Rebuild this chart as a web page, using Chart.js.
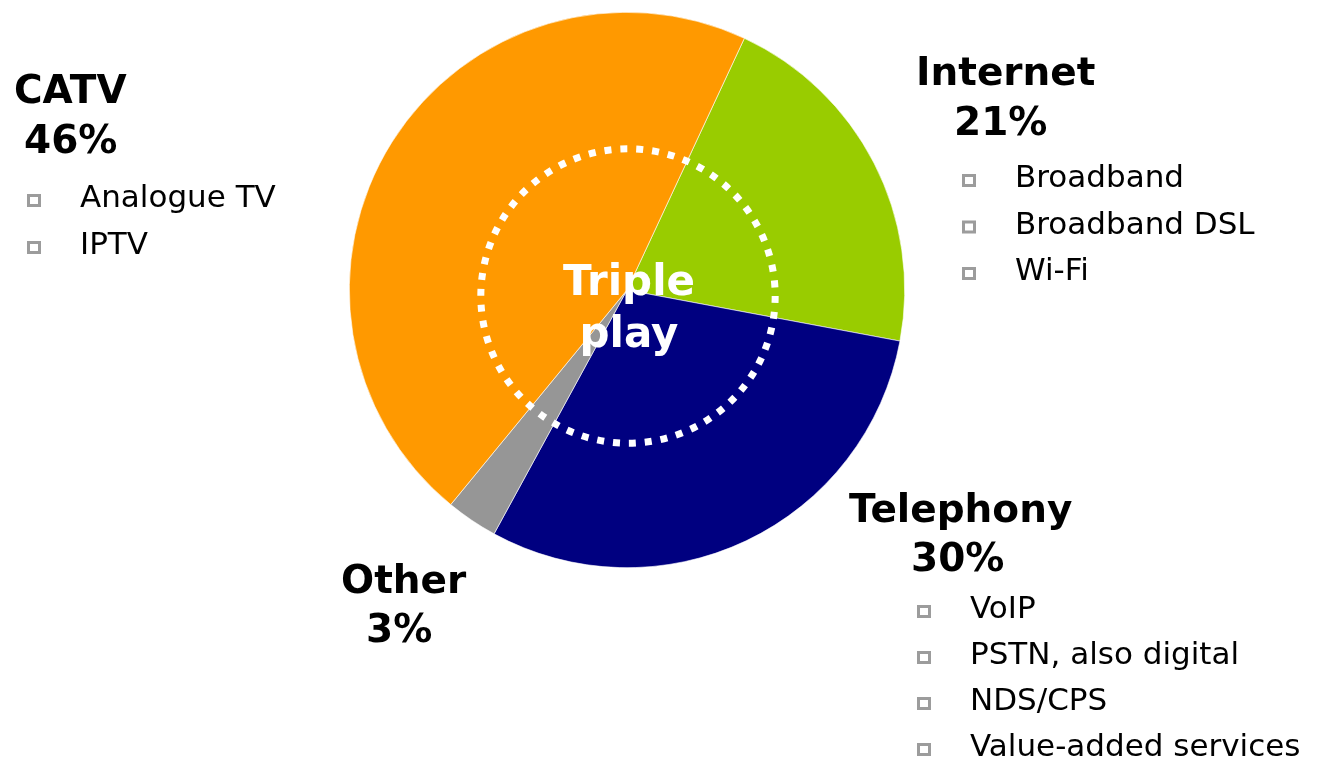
<!DOCTYPE html>
<html>
<head>
<meta charset="utf-8">
<script src="https://cdn.jsdelivr.net/npm/chart.js@4.4.0/dist/chart.umd.min.js"></script>
<style>
html,body{margin:0;padding:0;background:#fff;}
#wrap{position:relative;width:1317px;height:759px;}
</style>
</head>
<body>
<div id="wrap"><canvas id="c" width="1317" height="759"></canvas></div>
<script>
// ---- data ----
const categories = ["Internet", "Telephony", "Other", "CATV"];
const shares = [21, 30, 3, 46];
const colors = ["#99CC00", "#000080", "#969696", "#FF9900"];
const internetItems = ["Broadband", "Broadband DSL", "Wi-Fi"];
const telephonyItems = ["VoIP", "PSTN, also digital", "NDS/CPS", "Value-added services"];
const catvItems = ["Analogue TV", "IPTV"];
const otherItems = [];
const centerText = ["Triple", "play"];

// ---- layout for text blocks (positions only) ----
const blocks = [
  {name: "CATV", items: catvItems, nameX: 14, nameY: 103, pctX: 24, pctY: 153, bulletX: 27, textX: 80, firstY: 207, step: 47},
  {name: "Internet", items: internetItems, nameX: 916, nameY: 85, pctX: 954, pctY: 135, bulletX: 962, textX: 1015, firstY: 187, step: 46.5},
  {name: "Telephony", items: telephonyItems, nameX: 849, nameY: 522, pctX: 911, pctY: 571, bulletX: 917, textX: 970, firstY: 618, step: 46},
  {name: "Other", items: otherItems, nameX: 341, nameY: 593, pctX: 366, pctY: 642, bulletX: 0, textX: 0, firstY: 0, step: 0}
];

const FONT = '"DejaVu Sans", Verdana, sans-serif';

const overlay = {
  id: 'overlay',
  afterDraw(chart) {
    const ctx = chart.ctx;
    const arc = chart.getDatasetMeta(0).data[0];
    const cx = arc.x, cy = arc.y, R = arc.outerRadius;
    ctx.save();
    // dotted circle
    ctx.beginPath();
    const r = R * 0.53;
    ctx.arc(cx + 1, cy + 6, r, 0, Math.PI * 2);
    ctx.strokeStyle = '#ffffff';
    ctx.lineWidth = 7;
    ctx.lineCap = 'butt';
    const per = 2 * Math.PI * r / 58;
    ctx.setLineDash([7, per - 7]);
    ctx.stroke();
    ctx.setLineDash([]);
    // center text
    ctx.fillStyle = '#ffffff';
    ctx.font = 'bold 42px ' + FONT;
    ctx.textAlign = 'center';
    ctx.textBaseline = 'alphabetic';
    ctx.fillText(centerText[0], cx + 2, cy + 5);
    ctx.fillText(centerText[1], cx + 2, cy + 57);
    // labels
    ctx.textAlign = 'left';
    blocks.forEach(b => {
      const i = categories.indexOf(b.name);
      ctx.fillStyle = '#000000';
      ctx.font = 'bold 39px ' + FONT;
      ctx.fillText(categories[i], b.nameX, b.nameY);
      ctx.fillText(shares[i] + '%', b.pctX, b.pctY);
      ctx.font = '31px ' + FONT;
      b.items.forEach((t, k) => {
        const y = b.firstY + k * b.step;
        ctx.fillStyle = '#000000';
        ctx.fillText(t, b.textX, y);
        ctx.strokeStyle = '#9c9c9c';
        ctx.lineWidth = 3;
        ctx.strokeRect(b.bulletX + 1.5, y - 13 + 1.5, 11, 10);
      });
    });
    ctx.restore();
  }
};

new Chart(document.getElementById('c'), {
  type: 'pie',
  data: {
    labels: categories,
    datasets: [{
      data: shares,
      backgroundColor: colors,
      borderColor: '#ffffff',
      borderWidth: 0.6
    }]
  },
  options: {
    responsive: false,
    animation: false,
    rotation: 25,
    layout: {padding: {left: 349, right: 412, top: 12, bottom: 191}},
    plugins: {legend: {display: false}, tooltip: {enabled: false}}
  },
  plugins: [overlay]
});
</script>
</body>
</html>
